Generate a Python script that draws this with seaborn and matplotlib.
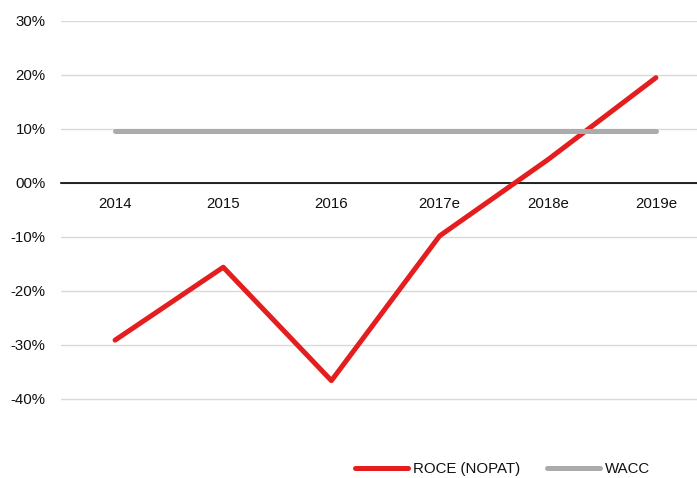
import matplotlib
matplotlib.use("Agg")
import matplotlib.pyplot as plt
from matplotlib.ticker import FuncFormatter, FixedLocator
import seaborn as sns
import pandas as pd

years = ["2014", "2015", "2016", "2017e", "2018e", "2019e"]
roce = [-0.291, -0.156, -0.366, -0.098, 0.043, 0.195]
wacc = [0.097, 0.097, 0.097, 0.097, 0.097, 0.097]
y_ticks = [-0.4, -0.3, -0.2, -0.1, 0.0, 0.1, 0.2, 0.3]

sns.set_style("white")
plt.rcParams["font.family"] = ["Liberation Sans", "DejaVu Sans"]

df = pd.DataFrame({"year": years, "ROCE (NOPAT)": roce, "WACC": wacc})

fig = plt.figure(figsize=(6.97, 4.78), dpi=100)
W, H = 697, 478
ax = fig.add_axes([61 / W, (H - 453) / H, (710 - 61) / W, (453 - 21) / H])

red = "#E41E1E"
grey = "#ABABAB"
sns.lineplot(data=df, x="year", y="ROCE (NOPAT)", ax=ax, color=red, lw=3.6,
             solid_capstyle="round", label="ROCE (NOPAT)", sort=False)
sns.lineplot(data=df, x="year", y="WACC", ax=ax, color=grey, lw=3.6,
             solid_capstyle="round", label="WACC", sort=False)

ax.set_xlim(-0.5, 5.5)
ax.set_ylim(-0.5, 0.3)
ax.yaxis.set_major_locator(FixedLocator(y_ticks))
ax.yaxis.set_major_formatter(FuncFormatter(lambda v, _: f"{round(v * 100):02d}%"))
ax.grid(axis="y", color="#D9D9D9", lw=1)
ax.set_axisbelow(True)

for s in ["top", "right", "left"]:
    ax.spines[s].set_visible(False)
ax.spines["bottom"].set_position(("data", 0))
ax.spines["bottom"].set_color("black")
ax.spines["bottom"].set_linewidth(1.2)
ax.spines["bottom"].set_zorder(1)

ax.tick_params(axis="x", length=0, pad=10, labelsize=10.8, colors="#111111")
ax.tick_params(axis="y", length=0, pad=11, labelsize=10.8, colors="#111111")
ax.set_xlabel("")
ax.set_ylabel("")

ax.legend(loc="center", bbox_to_anchor=(0.721, 1 - 469 / H), bbox_transform=fig.transFigure,
          ncol=2, frameon=False, fontsize=10.8, handlelength=3.5, columnspacing=1.8,
          handletextpad=0.35, labelcolor="#111111")

fig.savefig("out.png", dpi=100)
